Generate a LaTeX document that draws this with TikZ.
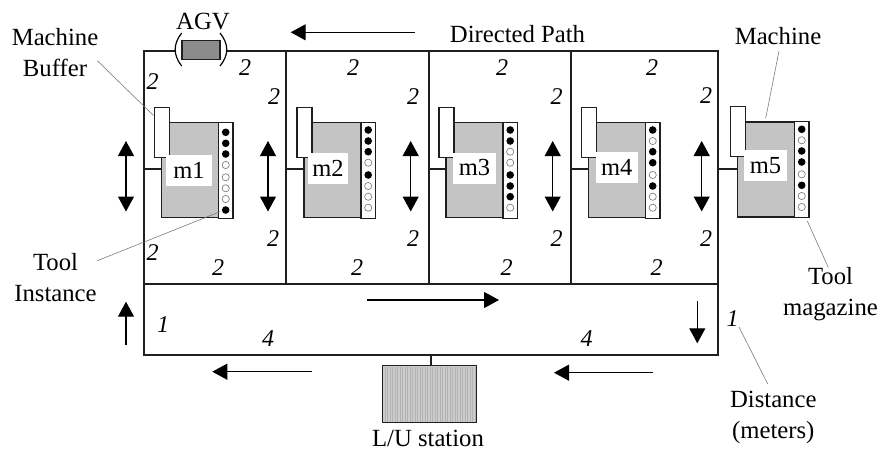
\documentclass[tikz,border=0pt]{standalone}
\usepackage{fontspec}
\setmainfont{Liberation Serif}
\usetikzlibrary{arrows.meta}
\definecolor{mgray}{gray}{0.77}
\definecolor{lgray}{gray}{0.8}
\definecolor{agray}{gray}{0.55}
\definecolor{lead}{gray}{0.45}
\tikzset{x=1pt,y=-1pt,
 wire/.style={draw=black!88,line width=1.2pt},
 flow/.style={black,line width=1.2pt,-{Triangle[length=15pt,width=16pt]}},
 flowb/.style={black,line width=1.2pt,{Triangle[length=15pt,width=16pt]}-{Triangle[length=15pt,width=16pt]}},
 leader/.style={draw=lead,line width=0.55pt},
 lbl/.style={font=\fontsize{24.7}{31}\selectfont,align=center,inner sep=0pt},
 single/.style={lbl,anchor=base},
 dist/.style={font=\fontsize{24}{26}\selectfont\itshape,inner sep=0pt},
 mbody/.style={draw=black!88,line width=1.2pt,fill=mgray},
 mwhite/.style={draw=black!88,line width=1.2pt,fill=white},
 mname/.style={fill=white,font=\fontsize{24.5}{26}\selectfont,minimum height=31pt,inner sep=0pt},
 tf/.style={circle,fill=black,inner sep=0pt,minimum size=7.6pt},
 te/.style={circle,draw=black!55,line width=0.6pt,fill=white,inner sep=0pt,minimum size=7.2pt}}
% name, body left, body top, dot shift, pattern, label x, label y, label width
\newcommand{\machine}[8]{%
 \draw[mbody] (#2,#3) rectangle (#2+57,#3+95);
 \draw[mwhite] (#2+57,#3-0.5) rectangle (#2+71.5,#3+95.5);
 \draw[mwhite] (#2-7,#3-15.5) rectangle (#2+8,#3+34.7);
 \node[mname,minimum width=#8pt] (#1) at (#6,#7) {#1};
 \foreach \p/\d [count=\i] in {#5} {
  \ifnum\p=1 \node[tf] (#1t\i) at (#2+64.2,#3+#4+\d) {};
  \else \node[te] (#1t\i) at (#2+64.2,#3+#4+\d) {}; \fi
 }}
\begin{document}
\begin{tikzpicture}
\useasboundingbox (0,0) rectangle (879,452);
\fill[white] (0,0) rectangle (879,452);
% tracks
\draw[wire] (144,51) rectangle (718,355);
\draw[wire] (144,284) -- (718,284);
\draw[wire] (286,51) -- (286,284);
\draw[wire] (429,51) -- (429,284);
\draw[wire] (571,51) -- (571,284);
\draw[wire] (144,169) -- (165,169);
\draw[wire] (286,169) -- (307,169);
\draw[wire] (429,169) -- (450,169);
\draw[wire] (571,169) -- (592,169);
\draw[wire] (718,169) -- (740,169);
\draw[wire] (431,355) -- (431,366);
% AGV
\fill[white] (175,44) rectangle (227,58);
\node[draw=black!88,line width=1.2pt,fill=agray,minimum width=38pt,minimum height=18.6pt,inner sep=0pt] (agv) at (201,50) {};
\draw[line width=1.2pt] (181.7,33) .. controls (173,44) and (173,55) .. (181.7,66);
\draw[line width=1.2pt] (220,33) .. controls (229,44) and (229,55) .. (220,66);
\node[single] (agvl) at (203,30) {AGV};
% machines
\machine{m1}{161.5}{122.7}{2.3}{1/7.3,1/18.3,1/29,0/40,0/52.3,0/63.3,0/74,1/85}{189}{170}{46}
\machine{m2}{304}{122.7}{0}{1/7.3,1/18.3,1/29,0/40,1/52.3,0/63.3,0/74,0/85}{328}{168}{40}
\machine{m3}{446}{122.7}{0}{1/7.3,1/18.3,0/29,0/40,1/52.3,1/63.3,1/74,0/85}{474.5}{168}{43}
\machine{m4}{588.5}{122.7}{0}{1/7.3,0/18.3,1/29,1/40,0/52.3,1/63.3,0/74,0/85}{616.7}{167}{42}
\machine{m5}{737.5}{122}{0}{1/7.3,0/18.3,1/29,1/40,0/52.3,1/63.3,0/74,0/85}{765.5}{165.5}{43}
% double arrows
\foreach \n/\x in {a/126,b/268,c/410.7,d/552.7,e/701.7}{
 \coordinate (\n1) at (\x,141); \coordinate (\n2) at (\x,211.5);
 \draw[flowb] (\n1) -- (\n2);}
% flow arrows
\coordinate (f1a) at (415,32.3); \coordinate (f1b) at (290.7,32.3);
\draw[flow] (f1a) -- (f1b);
\coordinate (f2a) at (366.7,300); \coordinate (f2b) at (499,300);
\draw[flow] (f2a) -- (f2b);
\coordinate (f3a) at (311.7,371.7); \coordinate (f3b) at (212.3,371.7);
\draw[flow] (f3a) -- (f3b);
\coordinate (f4a) at (652.7,372.7); \coordinate (f4b) at (554,372.7);
\draw[flow] (f4a) -- (f4b);
\coordinate (f5a) at (126,345); \coordinate (f5b) at (126,301.7);
\draw[flow] (f5a) -- (f5b);
\coordinate (f6a) at (697.3,301); \coordinate (f6b) at (697.3,343.3);
\draw[flow] (f6a) -- (f6b);
% L/U
\node[draw=black!88,line width=1.2pt,fill=lgray,minimum width=94pt,minimum height=56.6pt,inner sep=0pt] (lu) at (429.7,394) {};
\foreach \x in {385,387.5,...,475}{\draw[black!30,line width=0.5pt] (\x,367) -- (\x,421.5);}
\node[single] (lul) at (428,446.5) {L/U station};
% labels
\node[single] (dp) at (517.5,42.7) {Directed Path};
\node[lbl] (mb) at (55,53) {Machine\\Buffer};
\node[single] (ma) at (778,45) {Machine};
\node[lbl] (ti) at (55.5,277.8) {Tool\\Instance};
\node[lbl] (tm) at (830.5,293.8) {Tool\\magazine};
\node[lbl] (di) at (773.3,417.3) {Distance\\(meters)};
% leaders
\coordinate (lb1) at (97.3,60.7); \coordinate (lb2) at (153.5,115.5);
\draw[leader] (lb1) -- (lb2);
\coordinate (lm1) at (779,51); \coordinate (lm2) at (765.7,118.3);
\draw[leader] (lm1) -- (lm2);
\coordinate (lt1) at (97.3,260.7); \coordinate (lt2) at (220,211.7);
\draw[leader] (lt1) -- (lt2);
\coordinate (lg1) at (807.3,221); \coordinate (lg2) at (828.3,267.5);
\draw[leader] (lg1) -- (lg2);
\coordinate (ld1) at (739,327); \coordinate (ld2) at (767.7,384);
\draw[leader] (ld1) -- (ld2);
% distances
\foreach \x/\y/\t in {152.7/82/2,245/68/2,274/97/2,152.7/253/2,218/268/2,273/239/2,
 353/68/2,413/97/2,357/268/2,413/239/2,
 502/68/2,556.7/97/2,506.7/268/2,556.7/239/2,
 652/68/2,706/96/2,656.7/268/2,706/239/2,
 163/325/1,268/339/4,586.7/339/4,732.7/319/1}{
 \node[dist] at (\x,\y) {\t};}
\end{tikzpicture}
\end{document}
